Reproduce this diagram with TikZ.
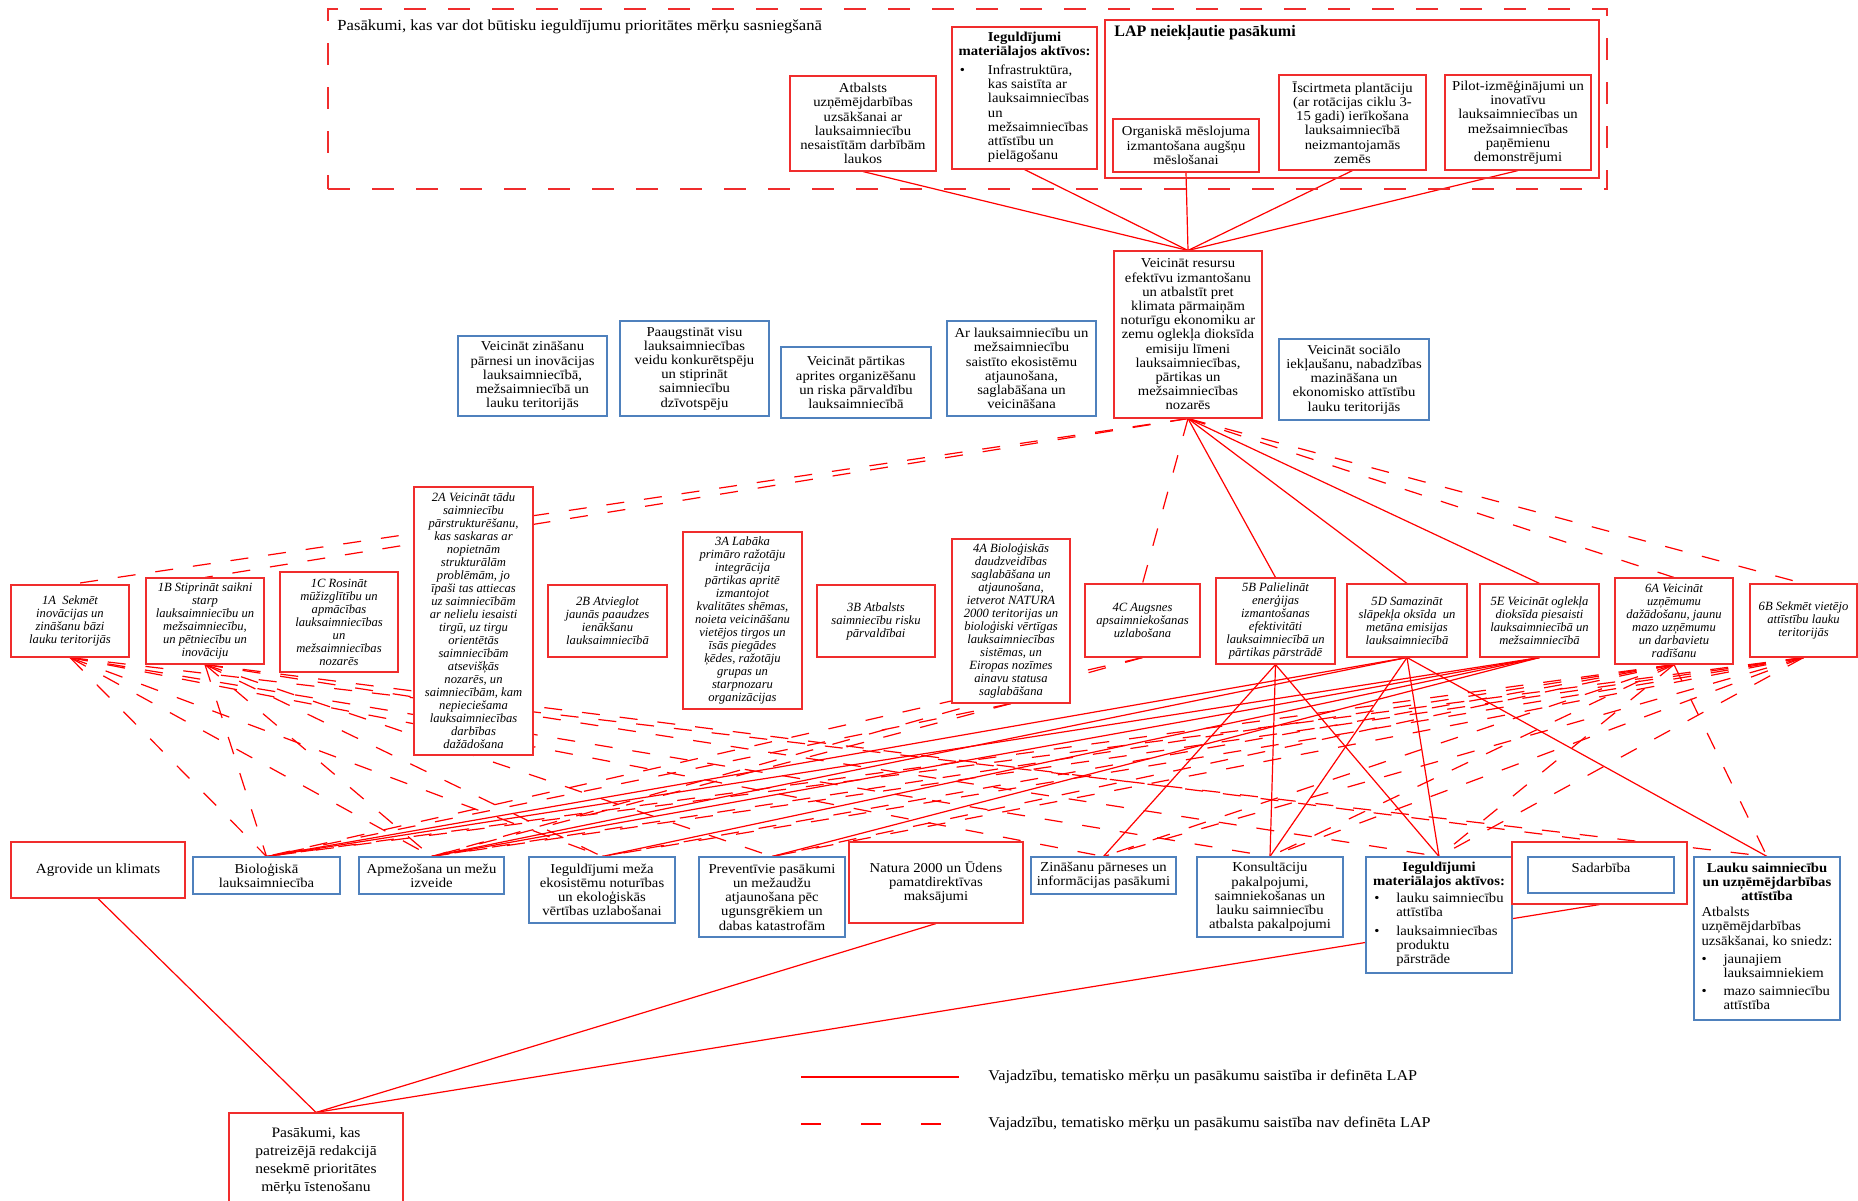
\documentclass[tikz,border=0pt]{standalone}
\usepackage{fontspec}
\setmainfont{Liberation Serif}
\newfontfamily\widefont{Liberation Serif}[FakeStretch=1.08]
\usetikzlibrary{backgrounds}

\definecolor{boxred}{RGB}{240,45,45}
\definecolor{linered}{RGB}{255,0,0}
\definecolor{boxblue}{RGB}{79,129,189}

\begin{document}
\begin{tikzpicture}[x=0.5pt,y=-0.5pt,
    box/.style={draw,fill=white,line width=0.55pt,inner sep=1pt,align=center,
      font=\widefont\fontsize{6.8}{7.1}\selectfont},
    redbox/.style={box,draw=boxred},
    bluebox/.style={box,draw=boxblue},
    fabox/.style={redbox,font=\fontsize{6.3}{6.5}\selectfont\itshape},
    link/.style={linered,line width=0.6pt},
    dashlink/.style={link,dash pattern=on 9pt off 10pt}
  ]
  \useasboundingbox (0,0) rectangle (1858,1200);

  % measures that could contribute
  \node[draw=boxred,dash pattern=on 11pt off 11pt,line width=0.6pt,inner sep=0pt,
    minimum width=639.5pt,minimum height=90pt] (prio) at (967.5,99) {};
  \node[anchor=west,inner sep=0pt,font=\widefont\fontsize{7.7}{9}\selectfont] (priot) at (337,27)
    {Pasākumi, kas var dot būtisku ieguldījumu prioritātes mērķu sasniegšanā};
  \node[redbox,minimum width=73pt,minimum height=47.5pt] (atb) at (863,123.5)
    {Atbalsts\\uzņēmējdarbības\\uzsākšanai ar\\lauksaimniecību\\nesaistītām darbībām\\laukos};
  \node[redbox,minimum width=72.5pt,minimum height=71pt] (iegtop) at (1024.5,98)
    {\textbf{Ieguldījumi}\\\textbf{materiālajos aktīvos:}\\[2pt]
     \begin{tabular}{@{}p{14pt}@{}l@{}}\textbullet & Infrastruktūra,\\ & kas saistīta ar\\
       & lauksaimniecības\\ & un\\ & mežsaimniecības\\ & attīstību un\\ & pielāgošanu\end{tabular}};
  \node[draw=boxred,line width=0.55pt,minimum width=247pt,minimum height=79pt] (lap) at (1352,99) {};
  \node[anchor=west,inner sep=0pt,font=\fontsize{8}{9}\selectfont\bfseries] (lapt) at (1114,33)
    {LAP neiekļautie pasākumi};
  \node[redbox,minimum width=73pt,minimum height=26.5pt] (org) at (1186,145.5)
    {Organiskā mēslojuma\\izmantošana augšņu\\mēslošanai};
  \node[redbox,minimum width=73.5pt,minimum height=47.5pt] (isc) at (1352.5,122.5)
    {Īscirtmeta plantāciju\\(ar rotācijas ciklu 3-\\15 gadi) ierīkošana\\lauksaimniecībā\\neizmantojamās\\zemēs};
  \node[redbox,minimum width=73pt,minimum height=47.5pt] (pil) at (1518,122.5)
    {Pilot-izmēģinājumi un\\inovatīvu\\lauksaimniecības un\\mežsaimniecības\\paņēmienu\\demonstrējumi};

  % priorities
  \node[bluebox,minimum width=74.5pt,minimum height=40pt] (p1) at (532.5,376)
    {Veicināt zināšanu\\pārnesi un inovācijas\\lauksaimniecībā,\\mežsaimniecībā un\\lauku teritorijās};
  \node[bluebox,minimum width=74.5pt,minimum height=47.5pt] (p2) at (694.5,368.5)
    {Paaugstināt visu\\lauksaimniecības\\veidu konkurētspēju\\un stiprināt\\saimniecību\\dzīvotspēju};
  \node[bluebox,minimum width=75pt,minimum height=35.5pt] (p3) at (856,382.5)
    {Veicināt pārtikas\\aprites organizēšanu\\un riska pārvaldību\\lauksaimniecībā};
  \node[bluebox,minimum width=74.5pt,minimum height=47.5pt] (p4) at (1021.5,368.5)
    {Ar lauksaimniecību un\\mežsaimniecību\\saistīto ekosistēmu\\atjaunošana,\\saglabāšana un\\veicināšana};
  \node[redbox,minimum width=74pt,minimum height=83.5pt] (p5) at (1188,334.5)
    {Veicināt resursu\\efektīvu izmantošanu\\un atbalstīt pret\\klimata pārmaiņām\\noturīgu ekonomiku ar\\zemu oglekļa dioksīda\\emisiju līmeni\\lauksaimniecības,\\pārtikas un\\mežsaimniecības\\nozarēs};
  \node[bluebox,minimum width=75pt,minimum height=40.5pt] (p6) at (1354,379.5)
    {Veicināt sociālo\\iekļaušanu, nabadzības\\mazināšana un\\ekonomisko attīstību\\lauku teritorijās};

  % focus areas
  \node[fabox,minimum width=59pt,minimum height=36pt] (fa1A) at (70,621)
    {1A~ Sekmēt\\inovācijas un\\zināšanu bāzi\\lauku teritorijās};
  \node[fabox,minimum width=59pt,minimum height=43pt] (fa1B) at (205,621)
    {1B Stiprināt saikni\\starp\\lauksaimniecību un\\mežsaimniecību,\\un pētniecību un\\inovāciju};
  \node[fabox,minimum width=59pt,minimum height=50pt] (fa1C) at (339,622)
    {1C Rosināt\\mūžizglītību un\\apmācības\\lauksaimniecības\\un\\mežsaimniecības\\nozarēs};
  \node[fabox,minimum width=59.5pt,minimum height=134pt] (fa2A) at (473.5,621)
    {2A Veicināt tādu\\saimniecību\\pārstrukturēšanu,\\kas saskaras ar\\nopietnām\\strukturālām\\problēmām, jo\\īpaši tas attiecas\\uz saimniecībām\\ar nelielu iesaisti\\tirgū, uz tirgu\\orientētās\\saimniecībām\\atsevišķās\\nozarēs, un\\saimniecībām, kam\\nepieciešama\\lauksaimniecības\\darbības\\dažādošana};
  \node[fabox,minimum width=59.5pt,minimum height=36pt] (fa2B) at (607.5,621)
    {2B Atvieglot\\jaunās paaudzes\\ienākšanu\\lauksaimniecībā};
  \node[fabox,minimum width=59.5pt,minimum height=88.5pt] (fa3A) at (742.5,620.5)
    {3A Labāka\\primāro ražotāju\\integrācija\\pārtikas apritē\\izmantojot\\kvalitātes shēmas,\\noieta veicināšanu\\vietējos tirgos un\\īsās piegādes\\ķēdes, ražotāju\\grupas un\\starpnozaru\\organizācijas};
  \node[fabox,minimum width=59pt,minimum height=36pt] (fa3B) at (876,621)
    {3B Atbalsts\\saimniecību risku\\pārvaldībai};
  \node[fabox,minimum width=59pt,minimum height=82pt] (fa4A) at (1011,621)
    {4A Bioloģiskās\\daudzveidības\\saglabāšana un\\atjaunošana,\\ietverot NATURA\\2000 teritorijas un\\bioloģiski vērtīgas\\lauksaimniecības\\sistēmas, un\\Eiropas nozīmes\\ainavu statusa\\saglabāšana};
  \node[fabox,minimum width=57.5pt,minimum height=36.5pt] (fa4C) at (1142.5,620.5)
    {4C Augsnes\\apsaimniekošanas\\uzlabošana};
  \node[fabox,minimum width=59.5pt,minimum height=43pt] (fa5B) at (1275.5,621)
    {5B Palielināt\\enerģijas\\izmantošanas\\efektivitāti\\lauksaimniecībā un\\pārtikas pārstrādē};
  \node[fabox,minimum width=60pt,minimum height=36.5pt] (fa5D) at (1407,620.5)
    {5D Samazināt\\slāpekļa oksīda~ un\\metāna emisijas\\lauksaimniecībā};
  \node[fabox,minimum width=59.5pt,minimum height=36.5pt] (fa5E) at (1539.5,620.5)
    {5E Veicināt oglekļa\\dioksīda piesaisti\\lauksaimniecībā un\\mežsaimniecībā};
  \node[fabox,minimum width=59pt,minimum height=43pt] (fa6A) at (1674,621)
    {6A Veicināt\\uzņēmumu\\dažādošanu, jaunu\\mazo uzņēmumu\\un darbavietu\\radīšanu};
  \node[fabox,minimum width=53.5pt,minimum height=36.5pt] (fa6B) at (1803.5,620.5)
    {6B Sekmēt vietējo\\attīstību lauku\\teritorijās};

  % measures
  \node[redbox,font=\widefont\fontsize{7}{8}\selectfont,minimum width=87pt,minimum height=28pt] (agro) at (98,870)
    {Agrovide un klimats};
  \node[bluebox,minimum width=73.5pt,minimum height=18.5pt] (bio) at (266.5,875.5)
    {Bioloģiskā\\lauksaimniecība};
  \node[bluebox,minimum width=72.5pt,minimum height=18.5pt] (apm) at (431.5,875.5)
    {Apmežošana un mežu\\izveide};
  \node[bluebox,minimum width=73pt,minimum height=33pt] (iegm) at (602,890)
    {Ieguldījumi meža\\ekosistēmu noturības\\un ekoloģiskās\\vērtības uzlabošanai};
  \node[bluebox,minimum width=73pt,minimum height=40pt] (prev) at (772,897)
    {Preventīvie pasākumi\\un mežaudžu\\atjaunošana pēc\\ugunsgrēkiem un\\dabas katastrofām};
  \node[redbox,minimum width=87pt,minimum height=40.5pt] (nat) at (936,882.5)
    {Natura 2000 un Ūdens\\pamatdirektīvas\\maksājumi};
  \node[bluebox,minimum width=72.5pt,minimum height=18.5pt] (zin) at (1103.5,875.5)
    {Zināšanu pārneses un\\informācijas pasākumi};
  \node[bluebox,minimum width=73pt,minimum height=40pt] (kons) at (1270,897)
    {Konsultāciju\\pakalpojumi,\\saimniekošanas un\\lauku saimniecību\\atbalsta pakalpojumi};
  \node[bluebox,minimum width=73pt,minimum height=58pt] (iegb) at (1439,915)
    {\textbf{Ieguldījumi}\\\textbf{materiālajos aktīvos:}\\[1pt]
     \begin{tabular}{@{}p{11pt}@{}l@{}}\textbullet & lauku saimniecību\\ & attīstība\\[2pt]
       \textbullet & lauksaimniecības\\ & produktu\\ & pārstrāde\end{tabular}};
  \node[redbox,minimum width=87.5pt,minimum height=31pt] (sadr) at (1599.5,873) {};
  \node[bluebox,minimum width=73pt,minimum height=18pt] (sad) at (1601,875)
    {Sadarbība\\\mbox{}};
  \node[bluebox,minimum width=73pt,minimum height=81.5pt] (lauk) at (1767,938.5)
    {\textbf{Lauku saimniecību}\\\textbf{un uzņēmējdarbības}\\\textbf{attīstība}\\[2pt]
     \begin{tabular}{@{}p{11pt}@{}l@{}}\multicolumn{2}{@{}l@{}}{Atbalsts}\\
       \multicolumn{2}{@{}l@{}}{uzņēmējdarbības}\\\multicolumn{2}{@{}l@{}}{uzsākšanai, ko sniedz:}\\[2pt]
       \textbullet & jaunajiem\\ & lauksaimniekiem\\[2pt]\textbullet & mazo saimniecību\\ & attīstība\end{tabular}};
  \node[redbox,font=\widefont\fontsize{7.2}{9}\selectfont,minimum width=87pt,minimum height=48.5pt] (pas) at (316,1161.5)
    {Pasākumi, kas\\patreizējā redakcijā\\nesekmē prioritātes\\mērķu īstenošanu};

  % legend
  \coordinate (lega) at (801,1077);
  \coordinate (legb) at (959,1077);
  \coordinate (legc) at (801,1124);
  \coordinate (legd) at (959,1124);
  \draw[link] (lega) -- (legb);
  \draw[dashlink,dash pattern=on 10pt off 20pt] (legc) -- (legd);
  \node[anchor=west,inner sep=0pt,font=\widefont\fontsize{7.5}{9}\selectfont] (legs) at (988,1077)
    {Vajadzību, tematisko mērķu un pasākumu saistība ir definēta LAP};
  \node[anchor=west,inner sep=0pt,font=\widefont\fontsize{7.5}{9}\selectfont] (legn) at (988,1124)
    {Vajadzību, tematisko mērķu un pasākumu saistība nav definēta LAP};

  \begin{scope}[on background layer]
    \foreach \m in {atb,iegtop,org,isc,pil}
      \draw[link] (\m.south) -- (p5.north);
    \foreach \f in {fa5B,fa5D,fa5E}
      \draw[link] (p5.south) -- (\f.north);
    \foreach \f in {fa1A,fa1B,fa4C,fa6A,fa6B}
      \draw[dashlink] (p5.south) -- (\f.north);
    % defined links
    \foreach \m in {zin,kons,iegb}
      \draw[link] (fa5B.south) -- (\m.north);
    \foreach \m in {bio,apm,kons,iegb,lauk}
      \draw[link] (fa5D.south) -- (\m.north);
    \foreach \m in {bio,apm,iegm,prev}
      \draw[link] (fa5E.south) -- (\m.north);
    % links not defined
    \foreach \m in {bio,apm,iegm,zin,kons,lauk}
      \draw[dashlink] (fa1A.south) -- (\m.north);
    \foreach \m in {bio,apm,iegm,prev,iegb,sadr}
      \draw[dashlink] (fa1B.south) -- (\m.north);
    \foreach \m in {bio,apm}
      \draw[dashlink] (fa4A.south) -- (\m.north);
    \foreach \m in {bio,apm}
      \draw[dashlink] (fa4C.south) -- (\m.north);
    \foreach \m in {bio,apm,iegm,prev,zin,kons,iegb,lauk}
      \draw[dashlink] (fa6A.south) -- (\m.north);
    \foreach \m in {bio,apm,iegm,prev,zin,kons,iegb}
      \draw[dashlink] (fa6B.south) -- (\m.north);
    \foreach \m in {agro,nat,sadr}
      \draw[link] (\m.south) -- (pas.north);
  \end{scope}
\end{tikzpicture}
\end{document}
